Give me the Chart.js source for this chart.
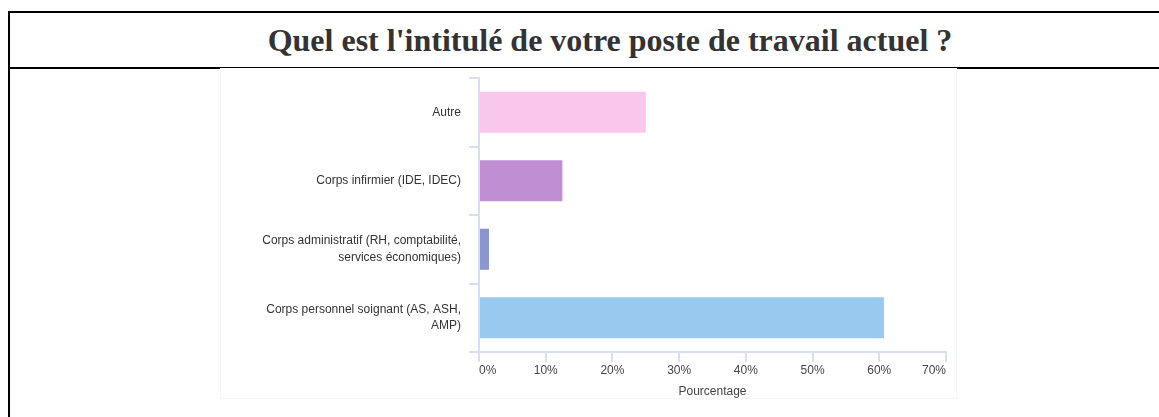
<!DOCTYPE html>
<html>
<head>
<meta charset="utf-8">
<script src="https://cdn.jsdelivr.net/npm/chart.js@4/dist/chart.umd.min.js"></script>
<style>
  html, body { margin: 0; padding: 0; background: #fff; overflow: hidden; width: 1159px; height: 417px; }
  #box { position: absolute; left: 8px; top: 11px; width: 1200px; height: 500px; border: 2px solid #000; box-sizing: content-box; }
  #titleRow { height: 54px; border-bottom: 2px solid #000; display: flex; align-items: center; justify-content: center;
    font-family: "Liberation Serif", "Times New Roman", serif; font-weight: bold; font-size: 32px; color: #333; }
  #wrap { position: absolute; left: 220px; top: 68px; width: 735px; height: 330px; background: #fff;
    border-left: 1px solid #f6f6f6; border-right: 1px solid #f6f6f6; border-bottom: 1px solid #f6f6f6; z-index: 2; }
</style>
</head>
<body>
<div id="box"><div id="titleRow">Quel est l'intitulé de votre poste de travail actuel ?</div></div>
<div id="wrap"><canvas id="c" width="735" height="330"></canvas></div>
<script>
const categories = [
  'Autre',
  'Corps infirmier (IDE, IDEC)',
  ['Corps administratif (RH, comptabilité,', 'services économiques)'],
  ['Corps personnel soignant (AS, ASH,', 'AMP)']
];
const percentages = [25, 12.5, 1.5, 60.7];
const barColors = ['#f9c6ec', '#c08fd3', '#8b95d0', '#99c9ee'];
const xTickValues = [0, 10, 20, 30, 40, 50, 60, 70];
const axisTitle = 'Pourcentage';

const axisColor = '#d9dff2';
const txtFont = { family: '"Liberation Sans", Arial, sans-serif', size: 12 };

new Chart(document.getElementById('c'), {
  type: 'bar',
  data: {
    labels: categories,
    datasets: [{
      data: percentages,
      backgroundColor: barColors,
      borderWidth: 0,
      categoryPercentage: 1,
      barPercentage: 0.6
    }]
  },
  options: {
    indexAxis: 'y',
    responsive: false,
    animation: false,
    devicePixelRatio: 1,
    layout: { padding: { top: 10, right: 10, bottom: 0, left: 0 } },
    plugins: { legend: { display: false }, tooltip: { enabled: false } },
    scales: {
      x: {
        min: xTickValues[0],
        max: xTickValues[xTickValues.length - 1],
        afterBuildTicks: s => { s.ticks = xTickValues.map(v => ({ value: v })); },
        afterFit: s => { s.height = 46; s.paddingLeft = 0; s.paddingRight = 0; },
        ticks: {
          callback: v => v + '%',
          font: txtFont, color: '#444', padding: 1, align: 'inner', maxRotation: 0
        },
        grid: { drawOnChartArea: false, drawTicks: true, tickLength: 10, color: axisColor, lineWidth: 2 },
        border: { color: axisColor, width: 2 },
        title: { display: true, text: axisTitle, font: { ...txtFont, lineHeight: 1 }, color: '#444', padding: { top: 2, bottom: 0 } }
      },
      y: {
        afterFit: s => { s.width = 258; s.paddingTop = 0; s.paddingBottom = 0; },
        ticks: { font: { ...txtFont, lineHeight: 1.4 }, color: '#333', padding: 8 },
        grid: { offset: true, drawOnChartArea: false, drawTicks: true, tickLength: 10, color: axisColor, lineWidth: 2 },
        border: { color: axisColor, width: 2 }
      }
    }
  }
});
</script>
</body>
</html>
